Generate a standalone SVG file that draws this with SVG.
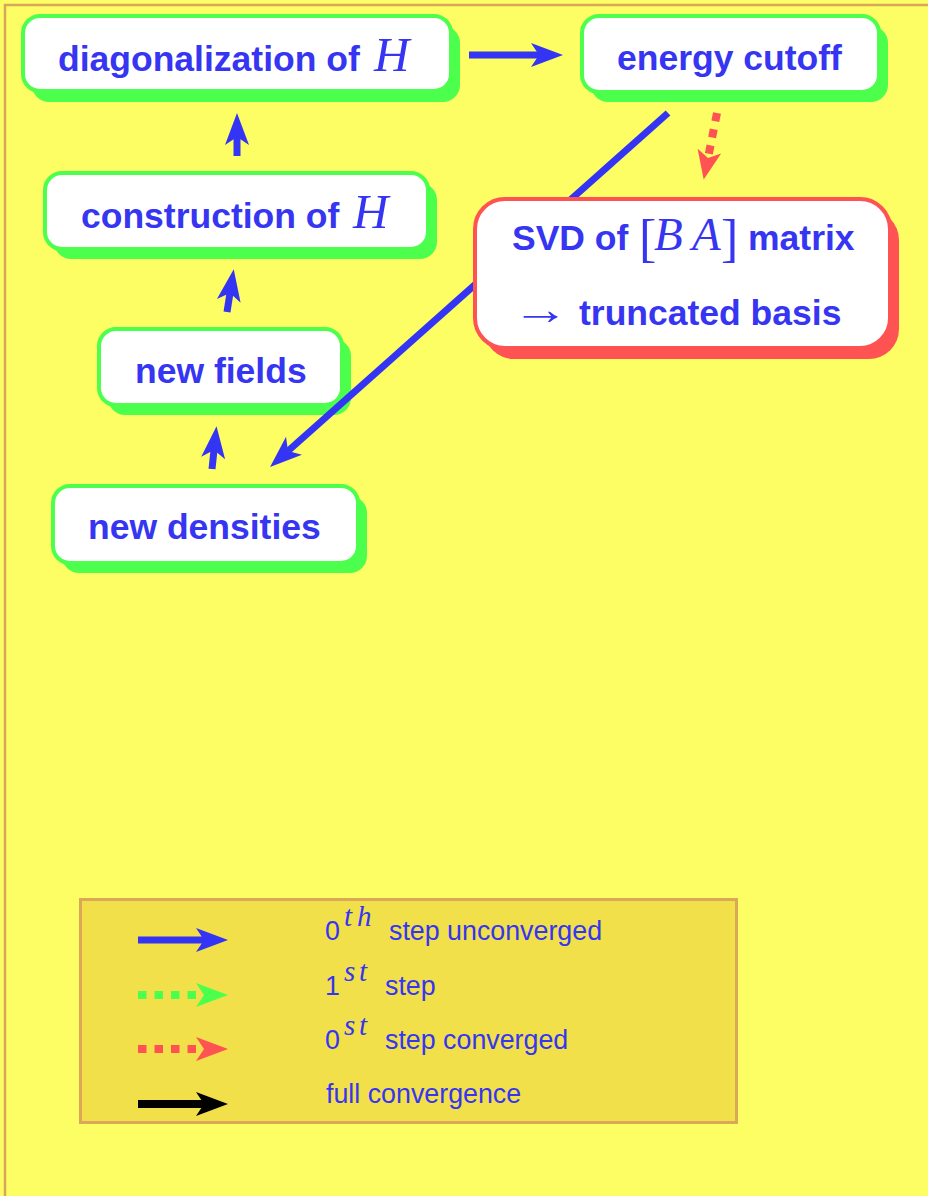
<svg xmlns="http://www.w3.org/2000/svg" width="928" height="1196" viewBox="0 0 928 1196">
<defs>
<style>
.bg{fill:#FDFD64}
.page{fill:none;stroke:#D9A65A;stroke-width:2.5}
.shg{fill:#4DFF4D}
.bxg{fill:#FFFFFF;stroke:#4DFF4D;stroke-width:4}
.shr{fill:#FF5252}
.bxr{fill:#FFFFFF;stroke:#FF5252;stroke-width:4}
.lbl{font-family:"Liberation Sans",Arial,sans-serif;font-weight:bold;font-size:35.5px;fill:#3535F2}
.math{font-family:"Liberation Serif","Times New Roman",serif;font-style:italic;font-weight:normal;fill:#3535F2}
.up{font-family:"Liberation Serif","Times New Roman",serif;font-style:normal;font-weight:normal;fill:#3535F2}
.leg{font-family:"Liberation Sans",Arial,sans-serif;font-size:26.8px;fill:#3535F2}
.legbox{fill:#F2E04A;stroke:#DBA85A;stroke-width:3}
.cb{fill:none;stroke:#3434F5;stroke-width:7}
.cg{fill:none;stroke:#4DFF4D;stroke-width:8;stroke-dasharray:8.5 8}
.cr{fill:none;stroke:#FF5252;stroke-width:8;stroke-dasharray:8.5 8}
.ck{fill:none;stroke:#000000;stroke-width:8}
</style>
<marker id="hb" markerUnits="userSpaceOnUse" markerWidth="34" markerHeight="26" refX="8" refY="0" orient="auto" overflow="visible"><path d="M0,-12 L32,0 L0,12 L8,0 Z" fill="#3434F5"/></marker>
<marker id="hg" markerUnits="userSpaceOnUse" markerWidth="34" markerHeight="26" refX="8" refY="0" orient="auto" overflow="visible"><path d="M0,-12 L32,0 L0,12 L8,0 Z" fill="#4DFF4D"/></marker>
<marker id="hr" markerUnits="userSpaceOnUse" markerWidth="34" markerHeight="26" refX="8" refY="0" orient="auto" overflow="visible"><path d="M0,-12 L32,0 L0,12 L8,0 Z" fill="#FF5252"/></marker>
<marker id="hrs" markerUnits="userSpaceOnUse" markerWidth="34" markerHeight="26" refX="7" refY="0" orient="auto" overflow="visible"><path d="M0,-12 L29,0 L0,12 L7,0 Z" fill="#FF5252"/></marker>
<marker id="hk" markerUnits="userSpaceOnUse" markerWidth="34" markerHeight="26" refX="8" refY="0" orient="auto" overflow="visible"><path d="M0,-12 L32,0 L0,12 L8,0 Z" fill="#000000"/></marker>
</defs>
<rect class="bg" x="0" y="0" width="928" height="1196"/>
<rect class="page" x="5" y="5" width="940" height="1210"/>

<g id="node-diag">
<rect class="shg" x="32" y="26" width="428" height="76" rx="17"/>
<rect class="bxg" x="23" y="16" width="428" height="75" rx="17"/>
<text class="lbl" x="58" y="71">diagonalization of <tspan class="math" font-size="49" x="374">H</tspan></text>
</g>

<g id="node-construction">
<rect class="shg" x="54" y="183" width="383" height="76" rx="17"/>
<rect class="bxg" x="45" y="173" width="383" height="76" rx="17"/>
<text class="lbl" x="81" y="228">construction of <tspan class="math" font-size="49" x="353">H</tspan></text>
</g>

<g id="node-energy">
<rect class="shg" x="591" y="26" width="297" height="76" rx="17"/>
<rect class="bxg" x="582" y="16" width="297" height="76" rx="17"/>
<text class="lbl" x="617" y="70">energy cutoff</text>
</g>

<g id="node-fields">
<rect class="shg" x="108" y="339" width="243" height="76" rx="17"/>
<rect class="bxg" x="99" y="329" width="243" height="76" rx="17"/>
<text class="lbl" x="135" y="383">new fields</text>
</g>

<g id="node-densities">
<rect class="shg" x="62" y="496" width="305" height="77" rx="17"/>
<rect class="bxg" x="53" y="486" width="305" height="77" rx="17"/>
<text class="lbl" x="88" y="539">new densities</text>
</g>

<g id="connectors">
<line class="cb" x1="469" y1="55" x2="539" y2="55" marker-end="url(#hb)"/>
<line class="cb" x1="237" y1="156" x2="237" y2="137" stroke-width="8" marker-end="url(#hb)"/>
<line class="cb" x1="227" y1="312" x2="230" y2="293" stroke-width="8" marker-end="url(#hb)"/>
<line class="cb" x1="212" y1="469" x2="214" y2="450" stroke-width="8" marker-end="url(#hb)"/>
<line class="cb" x1="668" y1="113" x2="288" y2="451" marker-end="url(#hb)"/>
<line class="cr" x1="717" y1="113" x2="708" y2="158" marker-end="url(#hrs)"/>
</g>

<g id="node-svd">
<rect class="shr" x="484" y="210" width="415" height="149" rx="30"/>
<rect class="bxr" x="475" y="199" width="415" height="149" rx="30"/>
<text class="lbl" x="512" y="250">SVD of <tspan class="up" font-size="52" x="639" y="256">[</tspan><tspan class="math" font-size="47" x="654" y="250">B</tspan><tspan class="math" font-size="47" x="692" y="250">A</tspan><tspan class="up" font-size="52" x="721" y="256">]</tspan><tspan x="748" y="250">matrix</tspan></text>
<text class="up" font-size="44" transform="translate(512,324) scale(1.3,1)" x="0" y="0">→</text>
<text class="lbl" x="579" y="325">truncated basis</text>
</g>

<g id="legend">
<rect class="legbox" x="80.5" y="899.5" width="656" height="223"/>
<line class="cb" x1="138" y1="940" x2="204" y2="940" stroke-width="8" marker-end="url(#hb)"/>
<line class="cg" x1="138" y1="995" x2="204" y2="995" marker-end="url(#hg)"/>
<line class="cr" x1="138" y1="1049" x2="204" y2="1049" marker-end="url(#hr)"/>
<line class="ck" x1="138" y1="1104" x2="204" y2="1104" marker-end="url(#hk)"/>
<text class="leg" x="325" y="940" font-size="28">0<tspan class="math" font-size="29" x="344" y="926">t</tspan><tspan class="math" font-size="29" x="357" y="926">h</tspan><tspan x="389" y="940" font-size="26.8">step unconverged</tspan></text>
<text class="leg" x="325" y="995" font-size="28">1<tspan class="math" font-size="29" x="344" y="981">s</tspan><tspan class="math" font-size="29" x="359" y="981">t</tspan><tspan x="385" y="995" font-size="26.8">step</tspan></text>
<text class="leg" x="325" y="1049" font-size="28">0<tspan class="math" font-size="29" x="344" y="1035">s</tspan><tspan class="math" font-size="29" x="359" y="1035">t</tspan><tspan x="385" y="1049" font-size="26.8">step converged</tspan></text>
<text class="leg" x="326" y="1103">full convergence</text>
</g>
</svg>
